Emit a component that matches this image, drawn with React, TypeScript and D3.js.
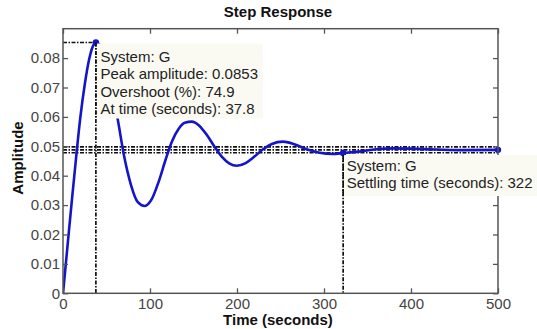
import * as d3 from 'd3';
import React, { useEffect, useRef } from 'react';

// step response (time in seconds, amplitude)
const times = [0, 5, 10, 15, 20, 25, 30, 34, 37.8, 42, 50, 57, 63, 70, 78, 86, 94, 102, 110, 118, 125, 133, 140, 148, 156, 165, 175, 183, 191, 200, 210, 220, 230, 240, 253, 265, 280, 295, 310, 322, 340, 360, 380, 400, 430, 460, 500];
const amplitudes = [0, 0.0155, 0.031, 0.046, 0.06, 0.071, 0.0795, 0.0838, 0.0853, 0.0845, 0.078, 0.068, 0.059, 0.047, 0.037, 0.031, 0.0297, 0.032, 0.038, 0.0455, 0.0515, 0.056, 0.058, 0.0584, 0.0572, 0.054, 0.0495, 0.0463, 0.0442, 0.0434, 0.0443, 0.0465, 0.049, 0.0508, 0.0516, 0.0508, 0.049, 0.0478, 0.0474, 0.0477, 0.0482, 0.049, 0.0493, 0.0492, 0.0489, 0.0487, 0.0488];

const xTicks = [0, 100, 200, 300, 400, 500];
const yTicks = [0, 0.01, 0.02, 0.03, 0.04, 0.05, 0.06, 0.07, 0.08];

const peakTime = 37.8;
const peakAmp = 0.0853;
const settleTime = 322;
const settleAmp = 0.0477;
const finalValue = 0.0488;
const bandLevels = [0.0498, 0.0488, 0.0478];

const peakLines = ['System: G', 'Peak amplitude: 0.0853', 'Overshoot (%): 74.9', 'At time (seconds): 37.8'];
const settleLines = ['System: G', 'Settling time (seconds): 322'];

const W = 537;
const H = 329;
const FONT = '"Liberation Sans", Arial, Helvetica, sans-serif';

const App: React.FC = () => {
  const svgRef = useRef<SVGSVGElement>(null);

  useEffect(() => {
    if (!svgRef.current) return;
    const svg = d3.select(svgRef.current);
    svg.selectAll('*').remove();

    const left = 63, right = 498, top = 28.7, bottom = 293.3;
    const x = d3.scaleLinear().domain([0, 500]).range([left, right]);
    const y = d3.scaleLinear().domain([0, 0.09]).range([bottom, top]);

    svg.append('rect').attr('width', W).attr('height', H).attr('fill', '#fff');

    svg.append('defs').append('clipPath').attr('id', 'plotclip')
      .append('rect').attr('x', left).attr('y', top).attr('width', right - left).attr('height', bottom - top);

    const plot = svg.append('g').attr('clip-path', 'url(#plotclip)');
    const dash = '4,1.5,1.5,1.5';

    // settling band
    bandLevels.forEach(v => {
      plot.append('line')
        .attr('x1', left).attr('x2', right)
        .attr('y1', y(v)).attr('y2', y(v))
        .attr('stroke', '#111').attr('stroke-width', 1.6)
        .attr('stroke-dasharray', dash);
    });

    // peak markers
    plot.append('line')
      .attr('x1', left).attr('x2', x(peakTime))
      .attr('y1', y(peakAmp)).attr('y2', y(peakAmp))
      .attr('stroke', '#111').attr('stroke-width', 1.5).attr('stroke-dasharray', dash);
    plot.append('line')
      .attr('x1', x(peakTime)).attr('x2', x(peakTime))
      .attr('y1', y(peakAmp)).attr('y2', bottom)
      .attr('stroke', '#111').attr('stroke-width', 1.7).attr('stroke-dasharray', dash);

    // settling vertical
    plot.append('line')
      .attr('x1', x(settleTime)).attr('x2', x(settleTime))
      .attr('y1', y(finalValue)).attr('y2', bottom)
      .attr('stroke', '#111').attr('stroke-width', 1.7).attr('stroke-dasharray', dash);

    const pts = times.map((t, i) => [t, amplitudes[i]] as [number, number]);
    const line = d3.line<[number, number]>()
      .x(d => x(d[0]))
      .y(d => y(d[1]))
      .curve(d3.curveMonotoneX);

    plot.append('path')
      .datum(pts)
      .attr('d', line)
      .attr('fill', 'none')
      .attr('stroke', '#1414c8')
      .attr('stroke-width', 2.6);

    // dots
    [[peakTime, peakAmp], [settleTime, settleAmp], [500, finalValue]].forEach(([t, v]) => {
      svg.append('circle')
        .attr('cx', x(t)).attr('cy', y(v)).attr('r', 3.2)
        .attr('fill', '#1414c8');
    });

    // axes box + ticks
    const axisColor = '#555';
    svg.append('rect')
      .attr('x', left).attr('y', top).attr('width', right - left).attr('height', bottom - top)
      .attr('fill', 'none').attr('stroke', axisColor).attr('stroke-width', 1.5);

    const styleAxis = (g: d3.Selection<SVGGElement, unknown, null, undefined>) => {
      g.select('.domain').remove();
      g.selectAll('line').attr('stroke', axisColor).attr('stroke-width', 1.3);
      g.selectAll('text')
        .attr('font-family', FONT).attr('font-size', 15).attr('fill', '#444');
    };

    svg.append('g').attr('transform', `translate(0,${bottom})`)
      .call(d3.axisBottom(x).tickValues(xTicks).tickSize(-5).tickPadding(5).tickFormat(d => `${d}`))
      .call(styleAxis);
    svg.append('g').attr('transform', `translate(0,${top})`)
      .call(d3.axisTop(x).tickValues(xTicks).tickSize(-5).tickFormat(() => ''))
      .call(styleAxis);
    svg.append('g').attr('transform', `translate(${left},0)`)
      .call(d3.axisLeft(y).tickValues(yTicks).tickSize(-5).tickPadding(3).tickFormat(d => d === 0 ? '0' : d3.format('.2f')(d as number)))
      .call(styleAxis);
    svg.append('g').attr('transform', `translate(${right},0)`)
      .call(d3.axisRight(y).tickValues(yTicks).tickSize(-5).tickFormat(() => ''))
      .call(styleAxis);

    // annotation boxes
    const box1 = svg.append('g');
    box1.append('rect')
      .attr('x', x(peakTime) + 1).attr('y', y(peakAmp) + 1)
      .attr('width', 166).attr('height', 75)
      .attr('fill', '#fafaf3');
    peakLines.forEach((s, i) => {
      box1.append('text')
        .attr('x', x(peakTime) + 4.5).attr('y', 62 + i * 17.3)
        .attr('font-family', FONT).attr('font-size', 15).attr('fill', '#222')
        .text(s);
    });

    const box2 = svg.append('g');
    box2.append('rect')
      .attr('x', x(settleTime) + 1).attr('y', 155)
      .attr('width', 200).attr('height', 41)
      .attr('fill', '#fafaf3');
    settleLines.forEach((s, i) => {
      box2.append('text')
        .attr('x', x(settleTime) + 3.5).attr('y', 171 + i * 17)
        .attr('font-family', FONT).attr('font-size', 15).attr('fill', '#222')
        .text(s);
    });

    // marker lines stay visible along the box edges
    svg.append('line')
      .attr('x1', x(settleTime)).attr('x2', x(settleTime))
      .attr('y1', 155).attr('y2', 196)
      .attr('stroke', '#111').attr('stroke-width', 1.7).attr('stroke-dasharray', dash);
    svg.append('line')
      .attr('x1', x(peakTime)).attr('x2', x(peakTime))
      .attr('y1', y(peakAmp)).attr('y2', y(peakAmp) + 76)
      .attr('stroke', '#111').attr('stroke-width', 1.7).attr('stroke-dasharray', dash);

    // titles
    svg.append('text')
      .attr('x', 278).attr('y', 17)
      .attr('text-anchor', 'middle')
      .attr('font-family', FONT).attr('font-size', 15).attr('font-weight', 'bold').attr('fill', '#111')
      .text('Step Response');
    svg.append('text')
      .attr('x', 278).attr('y', 325)
      .attr('text-anchor', 'middle')
      .attr('font-family', FONT).attr('font-size', 15).attr('font-weight', 'bold').attr('fill', '#111')
      .text('Time (seconds)');
    svg.append('text')
      .attr('transform', `translate(23,158) rotate(-90)`)
      .attr('text-anchor', 'middle')
      .attr('font-family', FONT).attr('font-size', 15).attr('font-weight', 'bold').attr('fill', '#111')
      .text('Amplitude');
  }, []);

  return (
    <svg
      ref={svgRef}
      width={W}
      height={H}
      style={{ position: 'absolute', left: 0, top: 0, display: 'block' }}
    />
  );
};

export default App;
